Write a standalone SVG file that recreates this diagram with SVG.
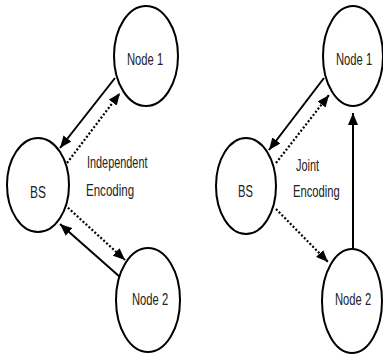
<svg xmlns="http://www.w3.org/2000/svg" width="383" height="354" viewBox="0 0 383 354">
<style>
.node{fill:#fff;stroke:#000;stroke-width:2}
.lbl{font-family:"Liberation Sans",Arial,sans-serif;font-size:17px;fill:#222}
.solid{stroke:#000;stroke-width:2;fill:none}
.dot{stroke:#000;stroke-width:2.2;fill:none;stroke-dasharray:2 2}
</style>
<defs>
<marker id="ah" markerUnits="userSpaceOnUse" markerWidth="12" markerHeight="10" refX="12" refY="5" orient="auto">
<path d="M0,0 L12,5 L0,10 z" fill="#000"/>
</marker>
</defs>
<rect width="383" height="354" fill="#fff"/>
<g id="connectors">
<line class="solid" x1="115" y1="78" x2="60" y2="148" marker-end="url(#ah)"/>
<line class="dot" x1="67" y1="163" x2="120" y2="93" marker-end="url(#ah)"/>
<line class="dot" x1="65" y1="205" x2="125" y2="260" marker-end="url(#ah)"/>
<line class="solid" x1="120" y1="277" x2="60" y2="224" marker-end="url(#ah)"/>
<line class="solid" x1="324" y1="78" x2="269" y2="150" marker-end="url(#ah)"/>
<line class="dot" x1="276" y1="163" x2="329" y2="95" marker-end="url(#ah)"/>
<line class="dot" x1="276" y1="209" x2="328" y2="262" marker-end="url(#ah)"/>
<line class="solid" x1="353" y1="249" x2="353" y2="113" marker-end="url(#ah)"/>
</g>
<g id="left-node1">
<ellipse class="node" cx="146" cy="56" rx="32" ry="50"/>
<text class="lbl" transform="translate(127,65) scale(0.66,1)">Node 1</text>
</g>
<g id="left-bs">
<ellipse class="node" cx="38" cy="185" rx="31" ry="47"/>
<text class="lbl" transform="translate(30,198) scale(0.7,1)">BS</text>
</g>
<g id="left-node2">
<ellipse class="node" cx="148" cy="300" rx="32" ry="52"/>
<text class="lbl" transform="translate(132,305) scale(0.66,1)">Node 2</text>
</g>
<g id="left-label">
<text class="lbl" transform="translate(87,168) scale(0.64,1)">Independent</text>
<text class="lbl" transform="translate(86,196) scale(0.68,1)">Encoding</text>
</g>
<g id="right-node1">
<ellipse class="node" cx="353" cy="56" rx="30" ry="50"/>
<text class="lbl" transform="translate(336,65) scale(0.66,1)">Node 1</text>
</g>
<g id="right-bs">
<ellipse class="node" cx="246" cy="186" rx="30" ry="48"/>
<text class="lbl" transform="translate(238,197) scale(0.66,1)">BS</text>
</g>
<g id="right-node2">
<ellipse class="node" cx="352" cy="301" rx="30" ry="52"/>
<text class="lbl" transform="translate(335,305) scale(0.66,1)">Node 2</text>
</g>
<g id="right-label">
<text class="lbl" transform="translate(296,171) scale(0.64,1)">Joint</text>
<text class="lbl" transform="translate(293,197) scale(0.66,1)">Encoding</text>
</g>
</svg>
